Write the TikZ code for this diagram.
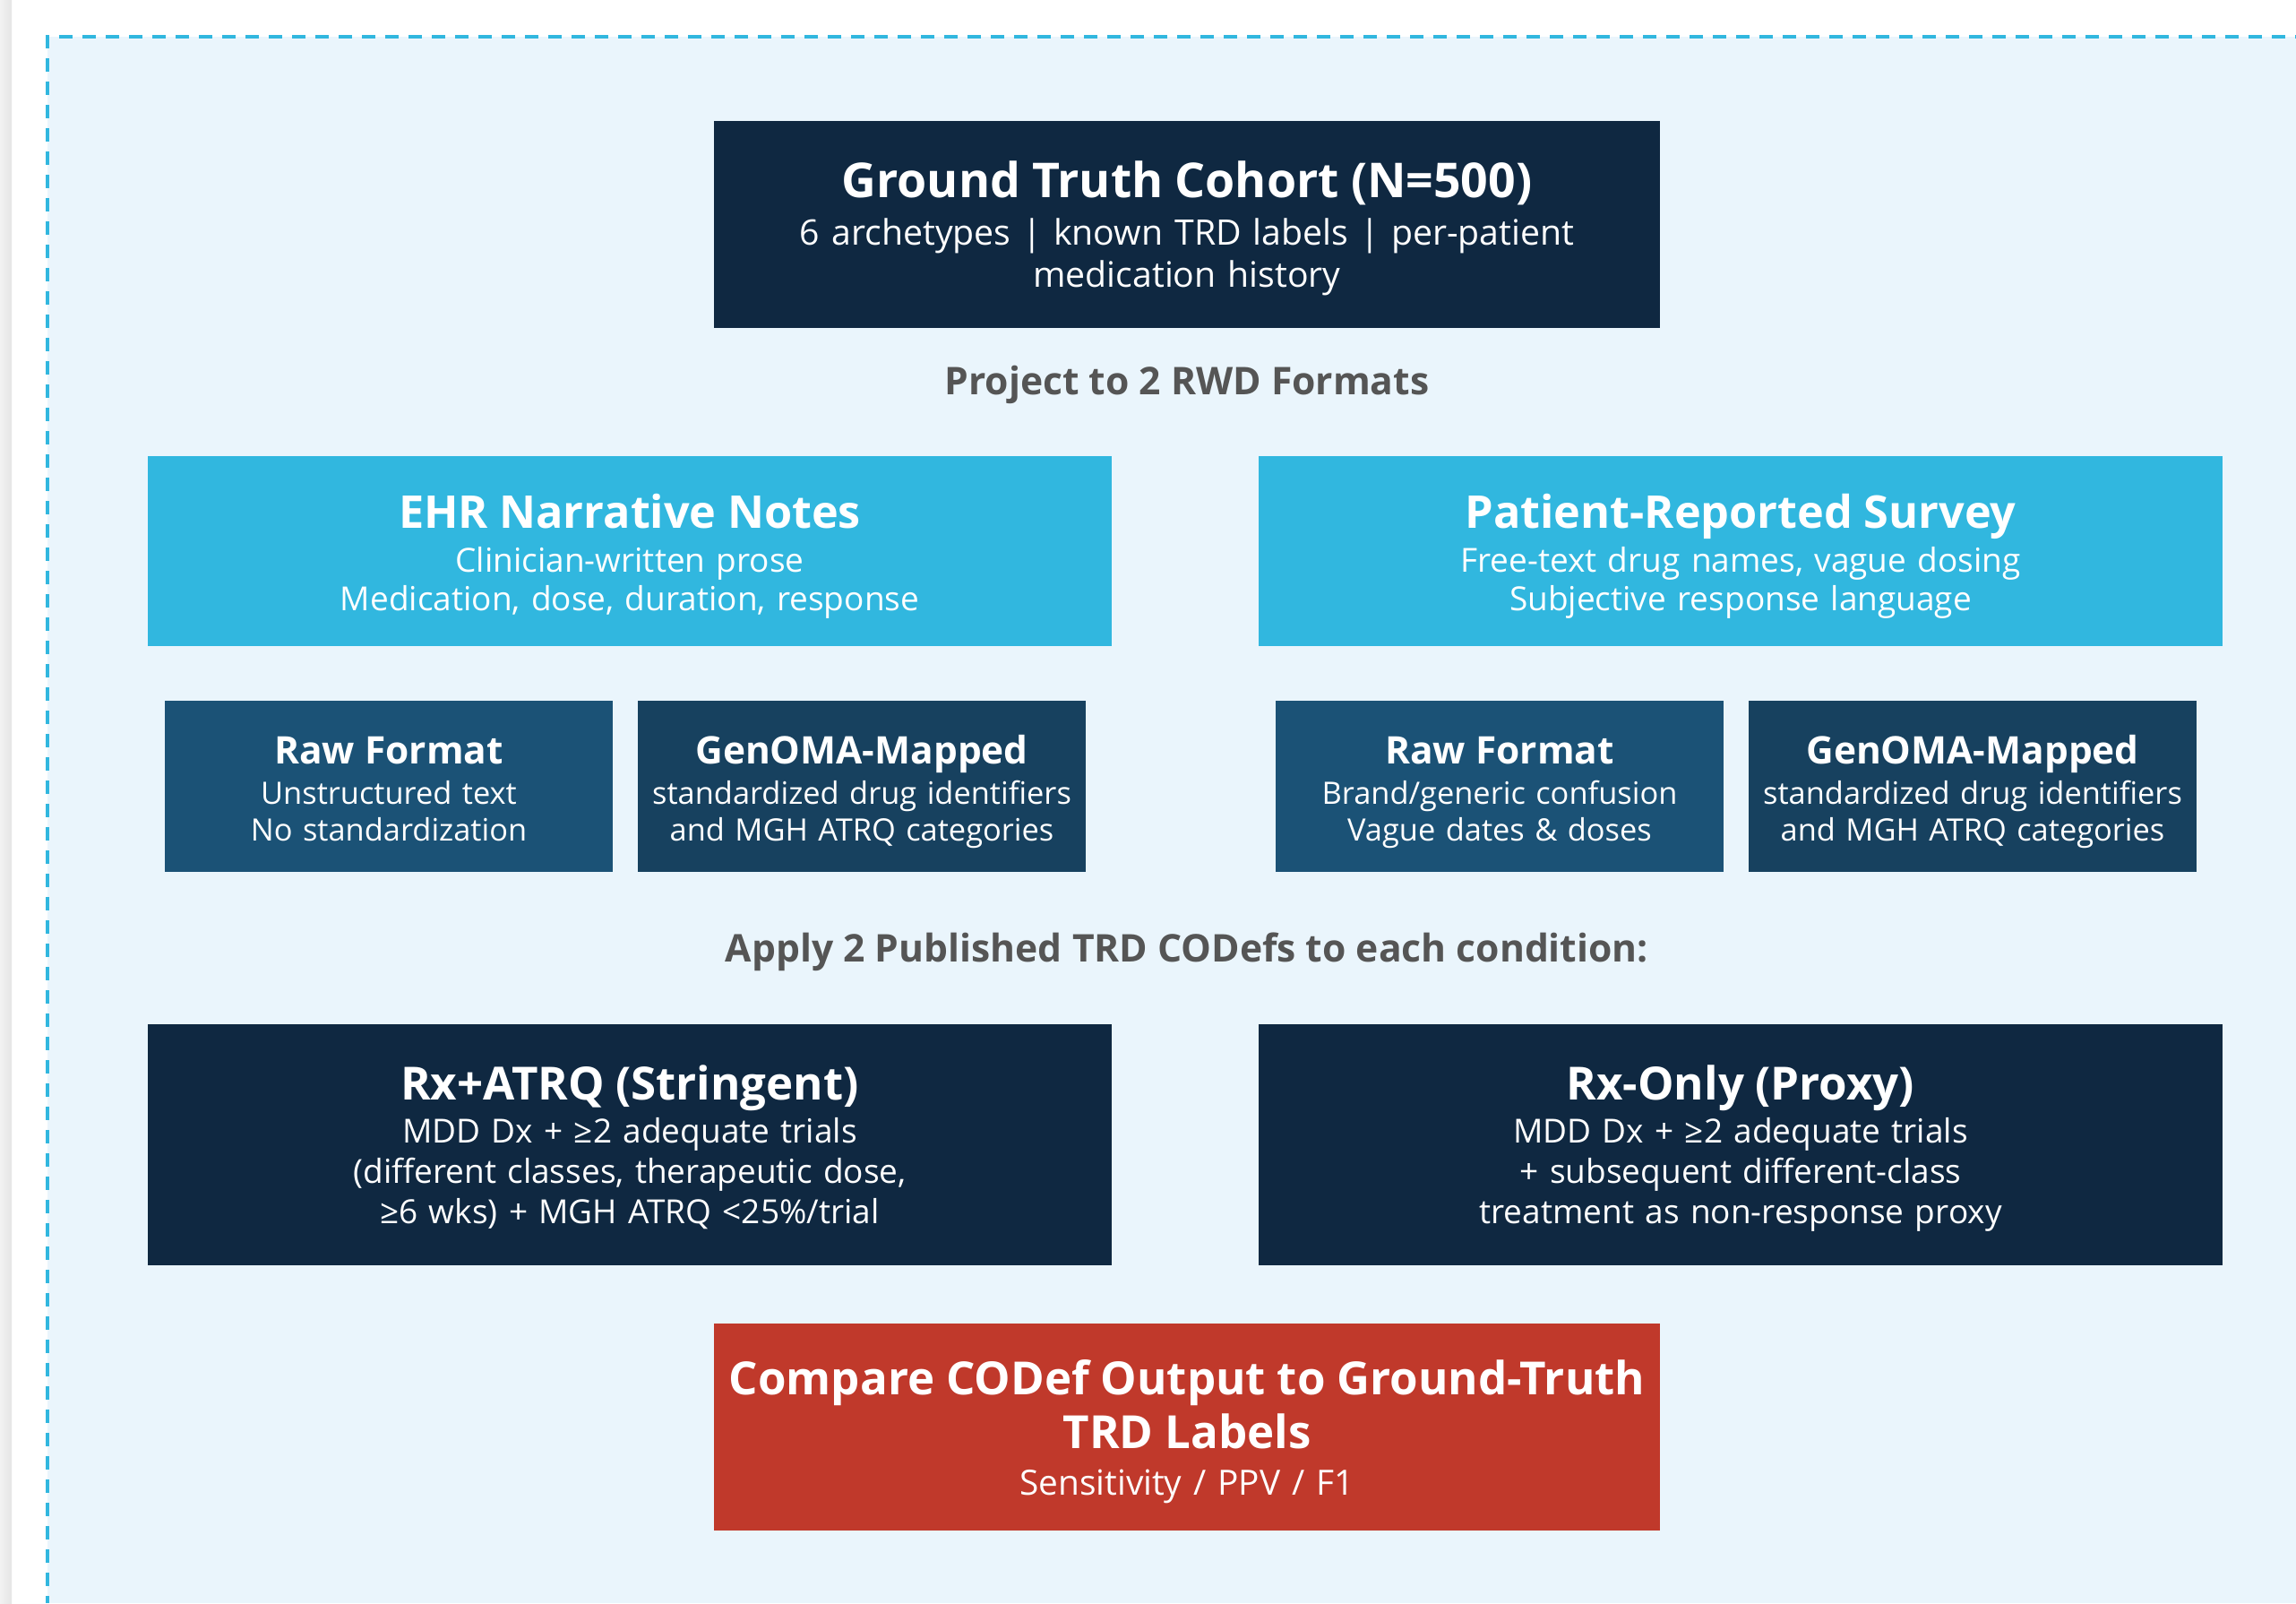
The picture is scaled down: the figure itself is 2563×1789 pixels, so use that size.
\documentclass[tikz,border=0pt]{standalone}
\usepackage{fontspec}
\setmainfont{Open Sans}

\definecolor{navy}{HTML}{0F2841}
\definecolor{skyband}{HTML}{31B7DF}
\definecolor{rawblue}{HTML}{1B5276}
\definecolor{mapblue}{HTML}{17415F}
\definecolor{alertred}{HTML}{C0392B}
\definecolor{panelfill}{HTML}{EAF5FC}
\definecolor{labelgray}{HTML}{555555}

% type sizes
\newcommand{\ttlTop}{\fontsize{26.8}{32}\selectfont\bfseries}
\newcommand{\subTop}{\fontsize{19.6}{23.8}\selectfont}
\newcommand{\ttlEhr}{\fontsize{25.2}{30}\selectfont\bfseries}
\newcommand{\ttlMid}{\fontsize{25.5}{30}\selectfont\bfseries}
\newcommand{\subMid}{\fontsize{18.5}{21.65}\selectfont}
\newcommand{\subCrit}{\fontsize{18.5}{22.5}\selectfont}
\newcommand{\ttlSmall}{\fontsize{21.2}{25}\selectfont\bfseries}
\newcommand{\subSmall}{\fontsize{17.2}{20.5}\selectfont}
\newcommand{\subCmp}{\fontsize{19.4}{24}\selectfont}
\newcommand{\secFont}{\fontsize{21.3}{25}\selectfont\bfseries}

\begin{document}
\begin{tikzpicture}[x=0.5pt,y=-0.5pt,
  % text height 0 + text depth D puts the first baseline D/2 above the box centre
  box/.style={rectangle, inner sep=0pt, text=white, align=center, text height=0pt},
  widebox/.style={box, minimum width=528pt, text width=528pt, minimum height=115.5pt},
  halfbox/.style={box, minimum width=538pt, text width=538pt},
  smallbox/.style={box, minimum width=250pt, text width=250pt, minimum height=95.5pt,
    font=\subSmall, text depth=24.8pt},
  seclabel/.style={text=labelgray, font=\secFont, inner sep=0pt, anchor=base},
  dashline/.style={draw=skyband, line width=2pt, dash pattern=on 7.5pt off 5.5pt}
]
\useasboundingbox (0,0) rectangle (2563,1789);

% page and panel
\fill[white] (0,0) rectangle (2563,1789);
\shade[left color=black!5, right color=black!10] (0,0) rectangle (13,1789);
\fill[panelfill] (53,41) rectangle (2563,1789);
\draw[dashline, dash phase=6.5pt] (53,41) -- (2563,41);
\draw[dashline] (53,39) -- (53,1789);

% cohort
\node[widebox, fill=navy, font=\subTop, text depth=29.8pt] (cohort) at (1325,250.5)
  {{\ttlTop Ground Truth Cohort (N=500)\\[2.5pt]}6 archetypes | known TRD labels | per-patient\\medication history};

\node[seclabel] (project) at (1325,440) {Project to 2 RWD Formats};

% data formats
\node[halfbox, fill=skyband, minimum height=106pt, font=\subMid, text depth=25.7pt] (ehr) at (703,615)
  {{\ttlEhr EHR Narrative Notes\\[3pt]}Clinician-written prose\\Medication, dose, duration, response};
\node[halfbox, fill=skyband, minimum height=106pt, font=\subMid, text depth=25.7pt] (survey) at (1943,615)
  {{\ttlEhr Patient-Reported Survey\\[3pt]}Free-text drug names, vague dosing\\Subjective response language};

% conditions
\node[smallbox, fill=rawblue] (ehrraw) at (434,877.5)
  {{\ttlSmall Raw Format\\[2pt]}Unstructured text\\No standardization};
\node[smallbox, fill=mapblue] (ehrmap) at (962,877.5)
  {{\ttlSmall GenOMA-Mapped\\[2pt]}standardized drug identifiers\\and MGH ATRQ categories};
\node[smallbox, fill=rawblue] (svyraw) at (1674,877.5)
  {{\ttlSmall Raw Format\\[2pt]}Brand/generic confusion\\Vague dates \& doses};
\node[smallbox, fill=mapblue] (svymap) at (2202,877.5)
  {{\ttlSmall GenOMA-Mapped\\[2pt]}standardized drug identifiers\\and MGH ATRQ categories};

\node[seclabel] (apply) at (1325,1073) {Apply 2 Published TRD CODefs to each condition:};

% definitions
\node[halfbox, fill=navy, minimum height=134.5pt, font=\subCrit, text depth=50.5pt] (stringent) at (703,1277.5)
  {{\ttlMid Rx+ATRQ (Stringent)\\[1.5pt]}MDD Dx + ≥2 adequate trials\\(different classes, therapeutic dose,\\≥6 wks) + MGH ATRQ <25\%/trial};
\node[halfbox, fill=navy, minimum height=134.5pt, font=\subCrit, text depth=50.5pt] (proxy) at (1943,1277.5)
  {{\ttlMid Rx-Only (Proxy)\\[1.5pt]}MDD Dx + ≥2 adequate trials\\+ subsequent different-class\\treatment as non-response proxy};

% evaluation
\node[widebox, fill=alertred, font=\subCmp, text depth=35.8pt] (compare) at (1325,1592.5)
  {{\ttlMid Compare CODef Output to Ground-Truth\\TRD Labels\\[1.8pt]}Sensitivity / PPV / F1};
\end{tikzpicture}
\end{document}
